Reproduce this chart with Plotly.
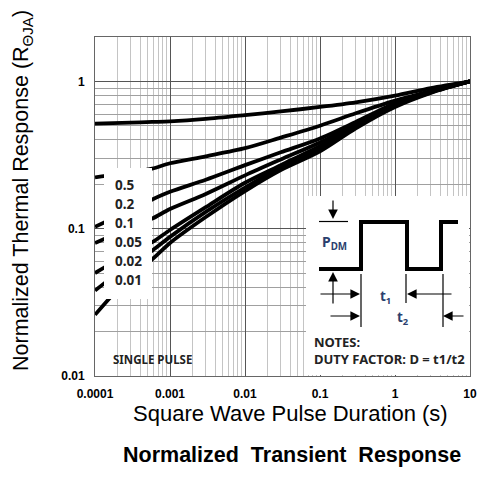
import plotly.graph_objects as go

# ---- data ----
pulse_t = [1e-4, 3e-4, 5.8e-4, 1e-3, 3e-3, 1e-2, 3e-2, 0.1, 0.3, 1, 3, 10]
duty_labels = ["0.5", "0.2", "0.1", "0.05", "0.02", "0.01", "SINGLE PULSE"]
r_d05 = [0.517, 0.524, 0.530, 0.535, 0.556, 0.59, 0.625, 0.67, 0.72, 0.80, 0.90, 1.0]
r_d02 = [0.223, 0.242, 0.256, 0.278, 0.31, 0.352, 0.415, 0.50, 0.607, 0.74, 0.86, 1.0]
r_d01 = [0.103, 0.134, 0.158, 0.178, 0.215, 0.27, 0.33, 0.41, 0.53, 0.71, 0.85, 1.0]
r_d005 = [0.080, 0.102, 0.117, 0.136, 0.172, 0.23, 0.295, 0.385, 0.51, 0.70, 0.85, 1.0]
r_d002 = [0.050, 0.069, 0.081, 0.098, 0.14, 0.205, 0.27, 0.365, 0.50, 0.69, 0.845, 1.0]
r_d001 = [0.038, 0.058, 0.071, 0.088, 0.13, 0.19, 0.26, 0.35, 0.49, 0.68, 0.84, 1.0]
r_single = [0.026, 0.048, 0.062, 0.080, 0.12, 0.18, 0.25, 0.335, 0.48, 0.67, 0.835, 1.0]
series = [r_d05, r_d02, r_d01, r_d005, r_d002, r_d001, r_single]

x_ticks = [1e-4, 1e-3, 1e-2, 0.1, 1, 10]
x_ticktext = ["0.0001", "0.001", "0.01", "0.1", "1", "10"]
y_ticks = [0.01, 0.1, 1]
y_ticktext = ["0.01", "0.1", "1"]

W, H = 477, 484
L, R, T, B = 95, 470, 37, 376


def fx(px):
    return (px - L) / (R - L)


def fy(py):
    return (B - py) / (B - T)


fig = go.Figure()
for name, vals in zip(duty_labels, series):
    fig.add_trace(go.Scatter(x=pulse_t, y=vals, mode="lines", name=name,
                             line=dict(color="black", width=3.8, shape="spline", smoothing=0.8),
                             showlegend=False))

shapes = []
annots = []
# white label box
shapes.append(dict(type="rect", xref="paper", yref="paper", x0=fx(104), x1=fx(152), y0=fy(299), y1=fy(168),
                   fillcolor="white", line=dict(width=0), layer="above"))
# white inset box
shapes.append(dict(type="rect", xref="paper", yref="paper", x0=fx(306), x1=fx(469), y0=fy(375), y1=fy(196),
                   fillcolor="white", line=dict(width=0), layer="above"))

blk = "black"
# square wave
wave_x = [319, 361, 361, 407, 407, 441, 441, 458]
wave_y = [269, 269, 222, 222, 269, 269, 222, 222]
path = "M " + " L ".join(f"{fx(a)},{fy(b)}" for a, b in zip(wave_x, wave_y))
shapes.append(dict(type="path", xref="paper", yref="paper", path=path,
                   line=dict(color=blk, width=4), layer="above"))
# thin lines
for (x0, y0, x1, y1) in [(319, 221.5, 348, 221.5), (361, 274, 361, 327), (406, 274, 406, 303), (443, 274, 443, 327)]:
    shapes.append(dict(type="line", xref="paper", yref="paper", x0=fx(x0), y0=fy(y0), x1=fx(x1), y1=fy(y1),
                       line=dict(color=blk, width=1.2), layer="above"))

# arrows: (head_x, head_y, dx, dy)
for hx, hy, dx, dy in [(333, 219, 0, -20), (333, 272, 0, 33), (360, 294, -41, 0), (407, 294, 46, 0),
                       (360, 316, -31, 0), (443, 316, 22, 0)]:
    annots.append(dict(xref="paper", yref="paper", x=fx(hx), y=fy(hy), ax=dx, ay=dy, text="",
                       showarrow=True, arrowhead=2, arrowsize=1.6, arrowwidth=1.2, arrowcolor=blk))

blue = "#2b3f6e"
lf = "Noto Sans"
annots.append(dict(xref="paper", yref="paper", x=fx(334), y=fy(242), text="<b>P<sub>DM</sub></b>", showarrow=False,
                   font=dict(family=lf, size=14, color=blue), xanchor="center", yanchor="middle"))
annots.append(dict(xref="paper", yref="paper", x=fx(385), y=fy(297), text="<b>t<sub>1</sub></b>", showarrow=False,
                   font=dict(family=lf, size=13.5, color=blue), xanchor="center", yanchor="middle"))
annots.append(dict(xref="paper", yref="paper", x=fx(403), y=fy(318), text="<b>t<sub>2</sub></b>", showarrow=False,
                   font=dict(family=lf, size=13.5, color=blue), xanchor="center", yanchor="middle"))
annots.append(dict(xref="paper", yref="paper", x=fx(312), y=fy(342), text="<b>NOTES:</b>", showarrow=False,
                   font=dict(family=lf, size=13, color="#222"), xanchor="left", yanchor="middle"))
annots.append(dict(xref="paper", yref="paper", x=fx(312), y=fy(359), text="<b>DUTY FACTOR: D = t1/t2</b>", showarrow=False,
                   font=dict(family=lf, size=13, color="#222"), xanchor="left", yanchor="middle"))

# duty labels
label_y = [185, 204, 223, 242, 261, 280]
for lab, yy in zip(duty_labels[:6], label_y):
    annots.append(dict(xref="paper", yref="paper", x=fx(113), y=fy(yy), text=f"<b>{lab}</b>", showarrow=False,
                       font=dict(family=lf, size=13.5, color="#222"), xanchor="left", yanchor="middle"))
annots.append(dict(xref="paper", yref="paper", x=fx(152), y=fy(359), text=f"<b>{duty_labels[6]}</b>", showarrow=False,
                   font=dict(family=lf, size=11.5, color="#222"), xanchor="center", yanchor="middle"))

# titles
annots.append(dict(xref="paper", yref="paper", x=fx(22), y=fy(191), text="Normalized Thermal Response (R<sub>ΘJA</sub>)",
                   showarrow=False, textangle=-90, font=dict(family="Liberation Sans", size=21.5, color="black"),
                   xanchor="center", yanchor="middle"))
annots.append(dict(xref="paper", yref="paper", x=fx(290), y=fy(413), text="Square Wave Pulse Duration (s)",
                   showarrow=False, font=dict(family="Liberation Sans", size=22, color="black"),
                   xanchor="center", yanchor="middle"))
annots.append(dict(xref="paper", yref="paper", x=fx(292), y=fy(455), text="<b>Normalized  Transient  Response</b>",
                   showarrow=False, font=dict(family="Liberation Sans", size=21.5, color="black"),
                   xanchor="center", yanchor="middle"))

axis_common = dict(type="log", showline=True, linecolor="#666", linewidth=1, mirror=True,
                   gridcolor="#555", gridwidth=1, zeroline=False, automargin=False,
                   ticks="outside", ticklen=7, tickcolor="rgba(0,0,0,0)",
                   tickfont=dict(family="Liberation Sans", size=12, color="black", weight="bold"))

fig.update_layout(
    width=W, height=H, margin=dict(l=L, r=W - R, t=T, b=H - B),
    paper_bgcolor="white", plot_bgcolor="white",
    xaxis=dict(axis_common, range=[-4, 1], tickvals=x_ticks, ticktext=x_ticktext,
               minor=dict(dtick="D1", showgrid=True, gridcolor="#c4c4c4", gridwidth=1)),
    yaxis=dict(axis_common, range=[-2, 0.301], tickvals=y_ticks, ticktext=y_ticktext,
               minor=dict(dtick="D1", showgrid=True, gridcolor="#a0a0a0", gridwidth=1)),
    shapes=shapes, annotations=annots,
)

fig.write_html("out.html")
